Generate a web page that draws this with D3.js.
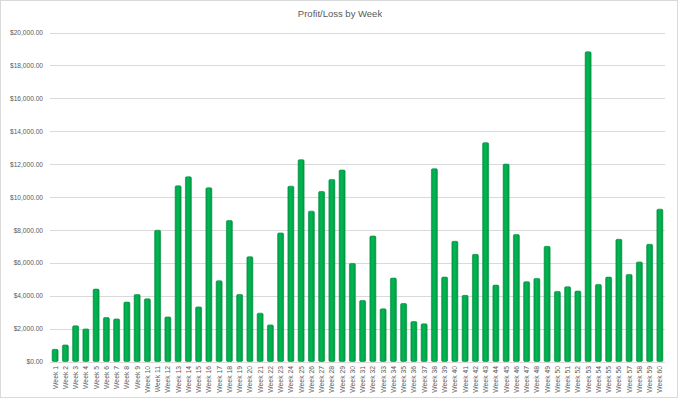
<!DOCTYPE html>
<html lang="en">
    <head>
        <meta charset="utf-8">
        <title>Profit/Loss by Week</title>
        <script type="text/javascript" src="https://cdn.jsdelivr.net/npm/d3@7"></script>
        <style type="text/css">
            body { margin: 0; background: #ffffff; }
            text { font-family: "Liberation Sans", Arial, sans-serif; fill: #595959; }
            .grid line { stroke: #d9d9d9; stroke-width: 1; shape-rendering: crispEdges; }
            .grid path { display: none; }
            .axis path, .axis line { display: none; }
        </style>
    </head>
    <body>
        <script type="text/javascript">
            //Chart size
            var w = 680;
            var h = 400;

            //Data
            var weeks = d3.range(1, 61).map(function(i) { return "Week " + i; });
            var profit = [
                740, 1005, 2170, 1980, 4400, 2670, 2590, 3610, 4075, 3810,
                7980, 2710, 10680, 11230, 3320, 10560, 4910, 8570, 4075, 6370,
                2940, 2225, 7815, 10660, 12270, 9140, 10340, 11070, 11640, 5965,
                3710, 7630, 3200, 5070, 3525, 2430, 2290, 11720, 5130, 7310,
                4020, 6515, 13305, 4645, 12000, 7715, 4850, 5050, 7000, 4260,
                4545, 4280, 18830, 4685, 5130, 7430, 5295, 6050, 7125, 9260
            ];
            var yTicks = [0, 2000, 4000, 6000, 8000, 10000, 12000, 14000, 16000, 18000, 20000];

            var svg = d3.select("body")
                        .append("svg")
                        .attr("width", w)
                        .attr("height", h);

            //Chart area border
            svg.append("rect")
                .attr("x", 0.5)
                .attr("y", 0.5)
                .attr("width", w - 3)
                .attr("height", h - 3)
                .attr("fill", "#ffffff")
                .attr("stroke", "#d9d9d9");

            //Gradient so the bars look a bit rounded
            var grad = svg.append("defs")
                        .append("linearGradient")
                        .attr("id", "barGrad")
                        .attr("x1", "0%").attr("x2", "100%")
                        .attr("y1", "0%").attr("y2", "0%");
            grad.append("stop").attr("offset", "0%").attr("stop-color", "#00a048");
            grad.append("stop").attr("offset", "45%").attr("stop-color", "#00b852");
            grad.append("stop").attr("offset", "100%").attr("stop-color", "#009a44");

            //Scales
            var xScale = d3.scaleBand()
                            .domain(weeks)
                            .range([50, 665])
                            .paddingInner(0.42)
                            .paddingOuter(0.21);

            var yScale = d3.scaleLinear()
                            .domain([0, 20000])
                            .range([361.5, 32.5]);

            //Gridlines
            svg.append("g")
                .attr("class", "grid")
                .attr("transform", "translate(50,0)")
                .call(d3.axisLeft(yScale).tickValues(yTicks).tickSize(-615).tickFormat(""));

            //Y axis labels
            var fmt = d3.format("$,.2f");
            svg.append("g")
                .attr("class", "axis")
                .attr("transform", "translate(50,0)")
                .call(d3.axisLeft(yScale).tickValues(yTicks).tickSize(0).tickPadding(7).tickFormat(fmt))
                .selectAll("text")
                .attr("font-size", "6.6px")
                .style("fill", "#595959");

            //Bars
            svg.selectAll("rect.bar")
                .data(profit)
                .enter()
                .append("rect")
                .attr("class", "bar")
                .attr("x", function(d, i) { return xScale(weeks[i]); })
                .attr("y", function(d) { return yScale(d); })
                .attr("width", xScale.bandwidth())
                .attr("height", function(d) { return yScale(0) - yScale(d); })
                .attr("rx", 1.3)
                .attr("fill", "url(#barGrad)")
                .attr("stroke", "#008a3c")
                .attr("stroke-width", 0.6);

            //X axis labels, rotated
            svg.append("g")
                .attr("class", "axis")
                .attr("transform", "translate(0," + yScale(0) + ")")
                .call(d3.axisBottom(xScale).tickSize(0).tickPadding(0))
                .selectAll("text")
                .attr("font-size", "6.8px")
                .attr("transform", "rotate(-90)")
                .attr("text-anchor", "end")
                .attr("x", -4.5)
                .attr("y", 0)
                .attr("dy", "0.35em")
                .style("fill", "#595959");

            //Title
            svg.append("text")
                .attr("x", 340)
                .attr("y", 17)
                .attr("text-anchor", "middle")
                .attr("font-size", "9.5px")
                .text("Profit/Loss by Week");

        </script>
    </body>
</html>
